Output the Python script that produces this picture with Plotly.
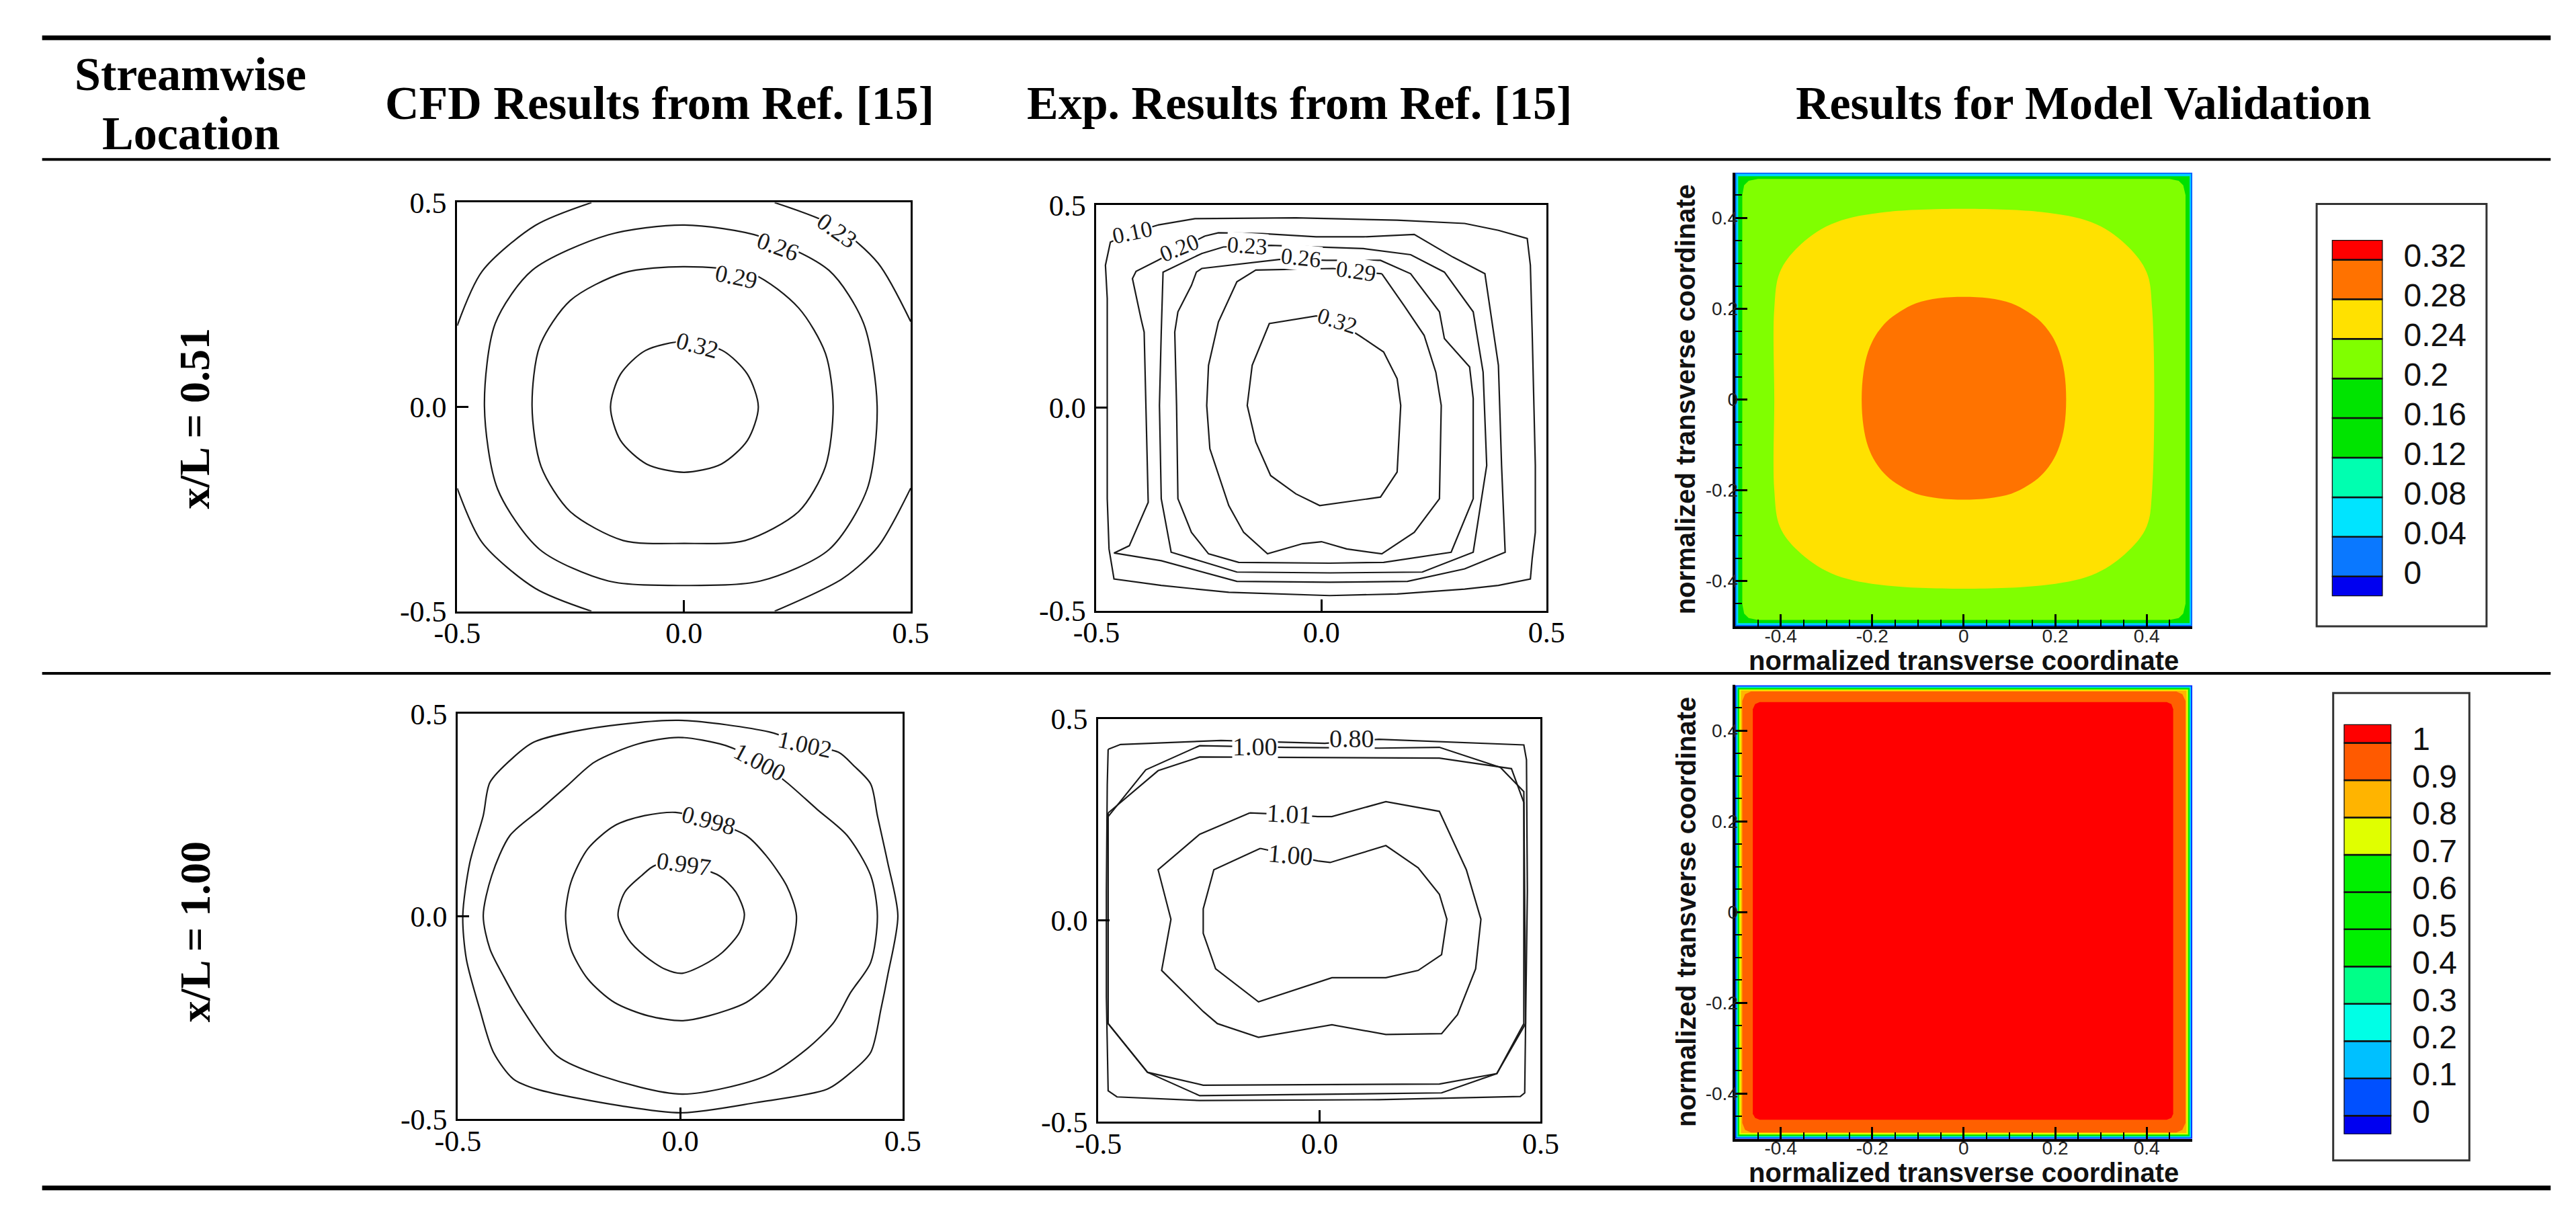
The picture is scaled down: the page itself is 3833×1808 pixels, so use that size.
import plotly.graph_objects as go

W, H = 3833, 1808

# ---------------------------------------------------------------- data
# axis ticks
line_ticks = [-0.5, 0.0, 0.5]
line_tick_text = ["-0.5", "0.0", "0.5"]
model_ticks = [-0.4, -0.2, 0.0, 0.2, 0.4]
model_tick_text = ["-0.4", "-0.2", "0", "0.2", "0.4"]

# x/L = 0.51 - CFD results from Ref. [15]  (contour polylines, x/y pairs)
cfd1_032 = [(0.0, 0.160), (0.085, 0.138), (0.140, 0.080), (0.164, 0.0), (0.140, -0.082), (0.082, -0.140),
            (0.0, -0.160), (-0.082, -0.140), (-0.140, -0.082), (-0.162, 0.0), (-0.140, 0.080), (-0.085, 0.138),
            (0.0, 0.160)]
cfd1_029 = [(0.001, 0.343), (0.152, 0.325), (0.253, 0.242), (0.312, 0.131), (0.329, 0.002), (0.312, -0.146),
            (0.253, -0.256), (0.135, -0.327), (0.001, -0.334), (-0.134, -0.327), (-0.251, -0.256), (-0.315, -0.146),
            (-0.335, 0.002), (-0.318, 0.149), (-0.251, 0.260), (-0.134, 0.328), (0.001, 0.343)]
cfd1_026 = [(0.001, 0.445), (0.169, 0.417), (0.320, 0.334), (0.396, 0.205), (0.426, 0.002), (0.404, -0.201),
            (0.320, -0.349), (0.169, -0.426), (0.001, -0.437), (-0.167, -0.426), (-0.318, -0.349), (-0.411, -0.201),
            (-0.440, 0.002), (-0.416, 0.205), (-0.335, 0.334), (-0.167, 0.421), (0.001, 0.445)]
cfd1_023_tl = [(-0.5, 0.199), (-0.445, 0.332), (-0.328, 0.444), (-0.204, 0.5)]
cfd1_023_tr = [(0.200, 0.5), (0.337, 0.440), (0.428, 0.352), (0.5, 0.209)]
cfd1_023_br = [(0.5, -0.199), (0.428, -0.342), (0.350, -0.420), (0.200, -0.5)]
cfd1_023_bl = [(-0.204, -0.5), (-0.328, -0.444), (-0.445, -0.332), (-0.5, -0.199)]
cfd1_labels = [("0.23", 0.337, 0.432, 35), ("0.26", 0.207, 0.393, 20), ("0.29", 0.115, 0.318, 12),
               ("0.32", 0.030, 0.150, 15)]

# x/L = 0.51 - experimental results from Ref. [15]
exp1_010 = [(-0.364, 0.451), (-0.281, 0.467), (-0.057, 0.469), (0.168, 0.463), (0.318, 0.455), (0.393, 0.438),
            (0.457, 0.418), (0.464, 0.352), (0.468, 0.187), (0.472, 0.023), (0.475, -0.142), (0.475, -0.307),
            (0.468, -0.372), (0.464, -0.422), (0.393, -0.438), (0.318, -0.447), (0.168, -0.459), (0.018, -0.463),
            (-0.206, -0.455), (-0.356, -0.438), (-0.461, -0.422), (-0.472, -0.348), (-0.476, -0.224),
            (-0.476, 0.023), (-0.476, 0.270), (-0.480, 0.352), (-0.469, 0.409), (-0.420, 0.432), (-0.364, 0.451)]
exp1_020 = [(-0.259, 0.424), (-0.229, 0.432), (-0.131, 0.430), (-0.012, 0.422), (0.093, 0.422), (0.206, 0.428),
            (0.292, 0.372), (0.363, 0.331), (0.393, 0.105), (0.400, -0.142), (0.408, -0.356), (0.318, -0.397),
            (0.191, -0.428), (0.018, -0.430), (-0.188, -0.428), (-0.356, -0.377), (-0.461, -0.358),
            (-0.427, -0.340), (-0.385, -0.233), (-0.390, 0.023), (-0.394, 0.187), (-0.401, 0.220),
            (-0.420, 0.319), (-0.412, 0.337), (-0.364, 0.364), (-0.315, 0.393), (-0.259, 0.424)]
exp1_023 = [(-0.113, 0.401), (0.093, 0.393), (0.198, 0.378), (0.273, 0.335), (0.337, 0.237), (0.359, 0.088),
            (0.367, -0.142), (0.337, -0.356), (0.224, -0.405), (0.018, -0.407), (-0.188, -0.405), (-0.334, -0.356),
            (-0.356, -0.224), (-0.360, 0.006), (-0.356, 0.187), (-0.352, 0.335), (-0.266, 0.381),
            (-0.218, 0.397), (-0.165, 0.399), (-0.113, 0.401)]
exp1_026 = [(0.011, 0.364), (0.131, 0.364), (0.198, 0.331), (0.262, 0.237), (0.273, 0.171), (0.329, 0.101),
            (0.337, 0.023), (0.337, -0.224), (0.288, -0.356), (0.138, -0.381), (0.018, -0.383), (-0.184, -0.381),
            (-0.251, -0.360), (-0.289, -0.307), (-0.319, -0.224), (-0.322, 0.006), (-0.326, 0.187),
            (-0.319, 0.237), (-0.289, 0.302), (-0.278, 0.335), (-0.266, 0.344), (-0.094, 0.366),
            (-0.045, 0.366), (0.011, 0.364)]
exp1_029 = [(0.134, 0.331), (0.183, 0.253), (0.228, 0.179), (0.254, 0.088), (0.266, 0.006), (0.262, -0.224),
            (0.206, -0.307), (0.134, -0.360), (0.056, -0.348), (0.000, -0.330), (-0.042, -0.335), (-0.120, -0.360),
            (-0.173, -0.307), (-0.206, -0.241), (-0.248, -0.101), (-0.255, 0.006), (-0.251, 0.105),
            (-0.229, 0.212), (-0.188, 0.311), (-0.146, 0.340), (0.026, 0.344), (0.077, 0.337), (0.134, 0.331)]
exp1_032 = [(0.086, 0.177), (0.138, 0.138), (0.168, 0.072), (0.176, 0.006), (0.168, -0.158), (0.131, -0.220),
            (-0.004, -0.241), (-0.057, -0.212), (-0.113, -0.167), (-0.146, -0.084), (-0.165, 0.006),
            (-0.154, 0.105), (-0.116, 0.208), (-0.012, 0.227), (0.036, 0.212), (0.086, 0.177)]
exp1_labels = [("0.10", -0.420, 0.434, -12), ("0.20", -0.315, 0.395, -22), ("0.23", -0.165, 0.400, 4),
               ("0.26", -0.045, 0.370, 6), ("0.29", 0.077, 0.338, 8), ("0.32", 0.036, 0.214, 18)]

# x/L = 1.00 - CFD results from Ref. [15]
cfd2_1002 = [(-0.428, 0.331), (-0.375, 0.393), (-0.330, 0.430), (-0.208, 0.463), (-0.004, 0.484), (0.201, 0.455),
             (0.280, 0.425), (0.356, 0.405), (0.390, 0.372), (0.428, 0.327), (0.443, 0.249), (0.466, 0.134),
             (0.489, 0.002), (0.466, -0.146), (0.451, -0.228), (0.428, -0.335), (0.383, -0.385), (0.330, -0.426),
             (0.170, -0.459), (0.004, -0.484), (-0.133, -0.467), (-0.322, -0.426), (-0.375, -0.401),
             (-0.420, -0.335), (-0.451, -0.228), (-0.481, -0.105), (-0.489, 0.002), (-0.473, 0.134),
             (-0.443, 0.249), (-0.428, 0.331)]
cfd2_1000 = [(-0.443, 0.002), (-0.424, 0.101), (-0.383, 0.200), (-0.314, 0.265), (-0.254, 0.323), (-0.193, 0.381),
             (-0.095, 0.426), (-0.004, 0.442), (0.102, 0.422), (0.178, 0.381), (0.239, 0.331), (0.307, 0.265),
             (0.375, 0.200), (0.428, 0.101), (0.443, 0.002), (0.428, -0.113), (0.383, -0.187), (0.345, -0.261),
             (0.284, -0.327), (0.193, -0.393), (0.004, -0.438), (-0.178, -0.393), (-0.277, -0.344),
             (-0.360, -0.220), (-0.398, -0.146), (-0.428, -0.080), (-0.443, 0.002)]
cfd2_0998 = [(-0.258, 0.002), (-0.246, 0.084), (-0.208, 0.167), (-0.148, 0.224), (-0.080, 0.249), (-0.011, 0.257),
             (0.064, 0.237), (0.148, 0.200), (0.193, 0.150), (0.239, 0.076), (0.261, 0.002), (0.246, -0.088),
             (0.201, -0.163), (0.148, -0.212), (0.064, -0.245), (0.004, -0.257), (-0.072, -0.245),
             (-0.148, -0.212), (-0.208, -0.154), (-0.246, -0.080), (-0.258, 0.002)]
cfd2_0997 = [(-0.140, 0.002), (-0.125, 0.060), (-0.087, 0.101), (-0.057, 0.126), (0.008, 0.127), (0.087, 0.101),
             (0.125, 0.060), (0.144, 0.006), (0.133, -0.039), (0.095, -0.088), (0.049, -0.121), (0.004, -0.140),
             (-0.034, -0.130), (-0.080, -0.097), (-0.117, -0.056), (-0.140, 0.002)]
cfd2_labels = [("1.002", 0.280, 0.424, 12), ("1.000", 0.178, 0.381, 28), ("0.998", 0.064, 0.237, 15),
               ("0.997", 0.008, 0.129, 8)]

# x/L = 1.00 - experimental results from Ref. [15]
exp2_080 = [(-0.478, 0.425), (-0.450, 0.437), (-0.223, 0.447), (0.012, 0.440), (0.134, 0.450), (0.462, 0.436),
            (0.468, 0.399), (0.470, 0.073), (0.466, -0.256), (0.464, -0.428), (0.454, -0.437), (0.134, -0.445),
            (-0.271, -0.447), (-0.458, -0.438), (-0.478, -0.423), (-0.482, -0.190), (-0.482, 0.073),
            (-0.480, 0.337), (-0.478, 0.425)]
exp2_100a = [(-0.478, 0.258), (-0.393, 0.374), (-0.271, 0.434), (-0.077, 0.430), (0.134, 0.428), (0.271, 0.430),
             (0.409, 0.380), (0.462, 0.320), (0.466, -0.256), (0.401, -0.380), (0.276, -0.428), (-0.271, -0.435),
             (-0.389, -0.377), (-0.478, -0.256), (-0.478, 0.258)]
exp2_100b = [(-0.478, 0.267), (-0.365, 0.372), (-0.271, 0.406), (0.271, 0.403), (0.434, 0.377), (0.462, 0.293),
             (0.462, -0.256), (0.401, -0.380), (0.271, -0.406), (-0.263, -0.409), (-0.389, -0.377),
             (-0.478, -0.256), (-0.478, 0.267)]
exp2_101 = [(-0.158, 0.267), (-0.069, 0.263), (-0.004, 0.258), (0.028, 0.258), (0.150, 0.295), (0.271, 0.271),
            (0.332, 0.126), (0.365, 0.003), (0.353, -0.120), (0.312, -0.234), (0.276, -0.281), (0.150, -0.283),
            (0.028, -0.259), (-0.138, -0.290), (-0.231, -0.256), (-0.263, -0.226), (-0.357, -0.124),
            (-0.336, 0.003), (-0.365, 0.126), (-0.271, 0.214), (-0.158, 0.267)]
exp2_100c = [(-0.134, 0.179), (-0.065, 0.163), (-0.004, 0.148), (0.024, 0.144), (0.150, 0.186), (0.223, 0.131),
             (0.271, 0.065), (0.288, 0.003), (0.276, -0.085), (0.223, -0.124), (0.150, -0.142), (0.028, -0.142),
             (-0.138, -0.202), (-0.235, -0.120), (-0.263, -0.032), (-0.263, 0.029), (-0.239, 0.126),
             (-0.134, 0.179)]
exp2_labels = [("1.00", -0.146, 0.432, 0), ("0.80", 0.073, 0.452, 0), ("1.01", -0.069, 0.265, 3),
               ("1.00", -0.065, 0.163, 5)]

# model validation, x/L = 0.51 (filled regions, outer to inner)
mod1_edge = [(-0.5, -0.5), (0.5, -0.5), (0.5, 0.5), (-0.5, 0.5)]
mod1_cyan = [(-0.497, -0.497), (0.497, -0.497), (0.497, 0.497), (-0.497, 0.497)]
mod1_green = [(-0.493, -0.493), (0.494, -0.493), (0.494, 0.492), (-0.493, 0.492)]
mod1_lime = [(-0.484, -0.450), (-0.484, 0.450), (-0.480, 0.472), (-0.470, 0.482), (-0.450, 0.486),
             (0.450, 0.486), (0.470, 0.482), (0.480, 0.472), (0.485, 0.450), (0.485, -0.450), (0.480, -0.472),
             (0.470, -0.482), (0.450, -0.486), (-0.450, -0.486), (-0.470, -0.482), (-0.480, -0.472)]
mod1_yellow = [(-0.414, 0.0), (-0.414, 0.20), (-0.402, 0.28), (-0.362, 0.336), (-0.290, 0.386), (-0.17, 0.413),
               (0.17, 0.413), (0.29, 0.386), (0.36, 0.336), (0.40, 0.28), (0.412, 0.20), (0.412, -0.20),
               (0.40, -0.28), (0.36, -0.334), (0.29, -0.383), (0.17, -0.410), (-0.17, -0.410), (-0.29, -0.383),
               (-0.362, -0.334), (-0.402, -0.28), (-0.414, -0.20), (-0.414, 0.0)]
mod1_orange = [(-0.223, 0.0), (-0.219, 0.06), (-0.209, 0.105), (-0.193, 0.140), (-0.169, 0.171),
               (-0.140, 0.193), (-0.104, 0.212), (-0.055, 0.223), (0.0, 0.226), (0.055, 0.223), (0.104, 0.212),
               (0.140, 0.193), (0.169, 0.171), (0.193, 0.140), (0.209, 0.105), (0.220, 0.06), (0.224, 0.0),
               (0.220, -0.06), (0.209, -0.104), (0.193, -0.138), (0.169, -0.168), (0.140, -0.190),
               (0.104, -0.208), (0.055, -0.218), (0.0, -0.221), (-0.055, -0.218), (-0.104, -0.208),
               (-0.140, -0.190), (-0.169, -0.168), (-0.193, -0.138), (-0.209, -0.104), (-0.219, -0.06),
               (-0.223, 0.0)]

# model validation, x/L = 1.00
mod2_edge = [(-0.5, -0.5), (0.5, -0.5), (0.5, 0.5), (-0.5, 0.5)]
mod2_cyan = [(-0.497, -0.497), (0.497, -0.497), (0.497, 0.497), (-0.497, 0.497)]
mod2_green = [(-0.494, -0.494), (0.494, -0.494), (0.494, 0.494), (-0.494, 0.494)]
mod2_yellow = [(-0.4905, -0.4905), (0.4905, -0.4905), (0.4905, 0.4905), (-0.4905, 0.4905)]
mod2_amber = [(-0.487, -0.487), (0.487, -0.487), (0.487, 0.488), (-0.487, 0.488)]
mod2_orange = [(-0.484, -0.465), (-0.484, 0.465), (-0.478, 0.480), (-0.465, 0.486), (0.465, 0.486),
               (0.478, 0.480), (0.485, 0.465), (0.485, -0.465), (0.478, -0.480), (0.465, -0.486),
               (-0.465, -0.486), (-0.478, -0.480)]
mod2_red = [(-0.461, -0.445), (-0.461, 0.447), (-0.456, 0.458), (-0.446, 0.4625), (0.444, 0.4625),
            (0.454, 0.458), (0.458, 0.447), (0.458, -0.445), (0.454, -0.454), (0.444, -0.458),
            (-0.446, -0.458), (-0.456, -0.454)]

# legends (contour levels and swatch colours, bottom to top)
cb1_levels = [0, 0.04, 0.08, 0.12, 0.16, 0.2, 0.24, 0.28, 0.32]
cb1_text = ["0", "0.04", "0.08", "0.12", "0.16", "0.2", "0.24", "0.28", "0.32"]
cb1_colors = ["#0000f0", "#0a78ff", "#00e4ff", "#00ffb0", "#00e400", "#00e400", "#80ff00", "#ffe100",
              "#ff7200", "#ff0000"]
cb2_levels = [0, 0.1, 0.2, 0.3, 0.4, 0.5, 0.6, 0.7, 0.8, 0.9, 1.0]
cb2_text = ["0", "0.1", "0.2", "0.3", "0.4", "0.5", "0.6", "0.7", "0.8", "0.9", "1"]
cb2_colors = ["#0000f0", "#0050ff", "#00c0ff", "#00ffe6", "#00ff88", "#00f000", "#00f000", "#00f000",
              "#e0ff00", "#ffb400", "#ff5a00", "#ff0000"]

headers = ["CFD Results from Ref. [15]", "Exp. Results from Ref. [15]", "Results for Model Validation"]
row_labels = ["x/L = 0.51", "x/L = 1.00"]

# ---------------------------------------------------------------- helpers
SERIF = "Liberation Serif"
SANS = "Liberation Sans"
INK = "#1a1a1a"


def px_x(v):
    return v / W


def px_y(v):
    return 1 - v / H


def ax_names(n):
    return ("x", "y") if n == 1 else (f"x{n}", f"y{n}")


def split(pts):
    xs = [p[0] if p is not None else None for p in pts]
    ys = [p[1] if p is not None else None for p in pts]
    return xs, ys


def add_lines(fig, n, lines, spline):
    xa, ya = ax_names(n)
    for pts in lines:
        xs, ys = split(pts)
        fig.add_trace(go.Scatter(
            x=xs, y=ys, mode="lines", xaxis=xa, yaxis=ya, hoverinfo="skip",
            line=dict(color=INK, width=2.2, shape="spline" if spline else "linear", smoothing=0.8),
        ))


def add_labels(fig, n, labels, size):
    xa, ya = ax_names(n)
    for text, x, y, ang in labels:
        fig.add_annotation(x=x, y=y, xref=xa, yref=ya, text=text, textangle=ang, showarrow=False,
                           font=dict(family=SERIF, size=size, color=INK), bgcolor="white", borderpad=0)


def add_fill(fig, n, pts, color, spline=False):
    xa, ya = ax_names(n)
    xs, ys = split(pts)
    fig.add_trace(go.Scatter(
        x=xs, y=ys, mode="lines", fill="toself", fillcolor=color, xaxis=xa, yaxis=ya, hoverinfo="skip",
        line=dict(color=color, width=0, shape="spline" if spline else "linear", smoothing=1.0),
    ))


def add_colorbar(fig, n, levels, colors):
    xa, ya = ax_names(n)
    half = (levels[1] - levels[0]) / 2
    bottoms = [levels[0] - half] + levels
    tops = levels + [levels[-1] + half]
    fig.add_trace(go.Bar(
        x=[0] * len(colors), y=[t - b for t, b in zip(tops, bottoms)], base=bottoms, width=[1] * len(colors),
        marker=dict(color=colors, line=dict(color="#111111", width=2.5)), xaxis=xa, yaxis=ya,
        hoverinfo="skip",
    ))
    return bottoms[0], tops[-1]


def line_axis(dom, standoff):
    return dict(domain=dom, range=[-0.5, 0.5], tickmode="array", tickvals=line_ticks, ticktext=line_tick_text,
                ticks="inside", ticklen=17, tickwidth=3, tickcolor="black", showline=True, linewidth=3,
                linecolor="black", mirror=True, showgrid=False, zeroline=False, fixedrange=True,
                ticklabelstandoff=standoff,
                tickfont=dict(family=SERIF, size=44, color="black"))


def model_axis(dom):
    return dict(domain=dom, range=[-0.5, 0.5], tickmode="array", tickvals=model_ticks, ticktext=model_tick_text,
                ticks="inside", ticklen=18, tickwidth=3, tickcolor="black",
                minor=dict(tickmode="linear", tick0=0, dtick=0.05, ticks="inside", ticklen=10, tickwidth=2,
                           tickcolor="black"),
                showline=True, linewidth=4, linecolor="black", mirror=False, showgrid=False, zeroline=False,
                fixedrange=True, layer="above traces", ticklabelstandoff=-14,
                tickfont=dict(family=SANS, size=28, color="#222222"))


# panel boxes in picture pixels: (left, right, top, bottom)
boxes = {
    1: (648, 1334, 277, 902),
    2: (1615, 2296, 281, 901),
    3: (2581, 3273, 231, 925),
    4: (649, 1322, 1059, 1679),
    5: (1618, 2287, 1067, 1683),
    6: (2581, 3273, 1015, 1709),
    7: (3484, 3561, 334, 879),
    8: (3502, 3574, 1075, 1702),
}

fig = go.Figure()

# contour-line panels
add_lines(fig, 1, [cfd1_032, cfd1_029, cfd1_026,
                   cfd1_023_tl + [None] + cfd1_023_tr + [None] + cfd1_023_br + [None] + cfd1_023_bl], True)
add_labels(fig, 1, cfd1_labels, 36)
add_lines(fig, 2, [exp1_010, exp1_020, exp1_023, exp1_026, exp1_029, exp1_032], False)
add_labels(fig, 2, exp1_labels, 34)
add_lines(fig, 4, [cfd2_1002, cfd2_1000, cfd2_0998, cfd2_0997], True)
add_labels(fig, 4, cfd2_labels, 36)
add_lines(fig, 5, [exp2_080, exp2_100a, exp2_100b, exp2_101, exp2_100c], False)
add_labels(fig, 5, exp2_labels, 38)

# filled model panels
for pts, col, sp in [(mod1_edge, "#0060ff", False), (mod1_cyan, "#00d4ff", False), (mod1_green, "#00e000", False),
                     (mod1_lime, "#80ff00", False), (mod1_yellow, "#ffe100", True), (mod1_orange, "#ff7300", True)]:
    add_fill(fig, 3, pts, col, sp)
for pts, col in [(mod2_edge, "#0030ff"), (mod2_cyan, "#00d8ff"), (mod2_green, "#00e800"), (mod2_yellow, "#e0ff00"),
                 (mod2_amber, "#ffb400"), (mod2_orange, "#ff6000"), (mod2_red, "#ff0000")]:
    add_fill(fig, 6, pts, col)

cb1_range = add_colorbar(fig, 7, cb1_levels, cb1_colors)
cb2_range = add_colorbar(fig, 8, cb2_levels, cb2_colors)

layout = {}
for n, (l, r, t, b) in boxes.items():
    xk = "xaxis" if n == 1 else f"xaxis{n}"
    yk = "yaxis" if n == 1 else f"yaxis{n}"
    xa, ya = ax_names(n)
    dx = [px_x(l), px_x(r)]
    dy = [px_y(b), px_y(t)]
    if n in (1, 2, 4, 5):
        layout[xk] = dict(line_axis(dx, -8), anchor=ya)
        layout[yk] = dict(line_axis(dy, 4), anchor=xa)
    elif n in (3, 6):
        layout[xk] = dict(model_axis(dx), anchor=ya)
        layout[yk] = dict(model_axis(dy), anchor=xa)
    else:
        rng, vals, txt = (cb1_range, cb1_levels, cb1_text) if n == 7 else (cb2_range, cb2_levels, cb2_text)
        layout[xk] = dict(domain=dx, range=[-0.5, 0.5], visible=False, anchor=ya, fixedrange=True)
        layout[yk] = dict(domain=dy, range=list(rng), anchor=xa, side="right", tickmode="array", tickvals=vals,
                          ticktext=txt, ticks="", showline=False, showgrid=False, zeroline=False,
                          ticklabelstandoff=30, ticklabelshift=-6, fixedrange=True,
                          tickfont=dict(family=SANS, size=48, color="#111111"))
fig.update_layout(**layout)

# table rules
shapes = []
for y, w in [(25, 7), (211, 4), (997, 4), (1784, 7)]:
    shapes.append(dict(type="line", xref="paper", yref="paper", x0=px_x(20), x1=px_x(3815), y0=px_y(y),
                       y1=px_y(y), line=dict(color="black", width=w)))
# legend frames
for l, r, t, b in [(3461, 3718, 279, 925), (3486, 3692, 1027, 1742)]:
    shapes.append(dict(type="rect", xref="paper", yref="paper", x0=px_x(l), x1=px_x(r), y0=px_y(b), y1=px_y(t),
                       line=dict(color="#333333", width=3)))

annotations = []
head_font = dict(family=SERIF, size=70, color="black")
annotations.append(dict(x=px_x(245), y=px_y(81), text="<b>Streamwise</b>", font=head_font))
annotations.append(dict(x=px_x(245), y=px_y(171), text="<b>Location</b>", font=head_font))
for text, cx in zip(headers, [954, 1922, 3108]):
    annotations.append(dict(x=px_x(cx), y=px_y(125), text=f"<b>{text}</b>", font=head_font))
for text, cy in zip(row_labels, [607, 1392]):
    annotations.append(dict(x=px_x(251), y=px_y(cy), text=f"<b>{text}</b>", textangle=-90,
                            font=dict(family=SERIF, size=64, color="black")))
# model axis titles
title_font = dict(family=SANS, size=40, color="#111111")
for cy_plot, cy_title in [(578, 977), (1362, 1761)]:
    annotations.append(dict(x=px_x(2927), y=px_y(cy_title), text="<b>normalized transverse coordinate</b>",
                            font=title_font))
    annotations.append(dict(x=px_x(2507), y=px_y(cy_plot), text="<b>normalized transverse coordinate</b>",
                            textangle=-90, font=title_font))
for a in annotations:
    a.update(xref="paper", yref="paper", showarrow=False, xanchor="center", yanchor="middle")

fig.update_layout(
    width=W, height=H,
    margin=dict(l=0, r=0, t=0, b=0),
    paper_bgcolor="white", plot_bgcolor="white",
    showlegend=False, barmode="overlay",
    shapes=shapes,
)
for a in annotations:
    fig.add_annotation(**a)

fig.write_html("out.html")
